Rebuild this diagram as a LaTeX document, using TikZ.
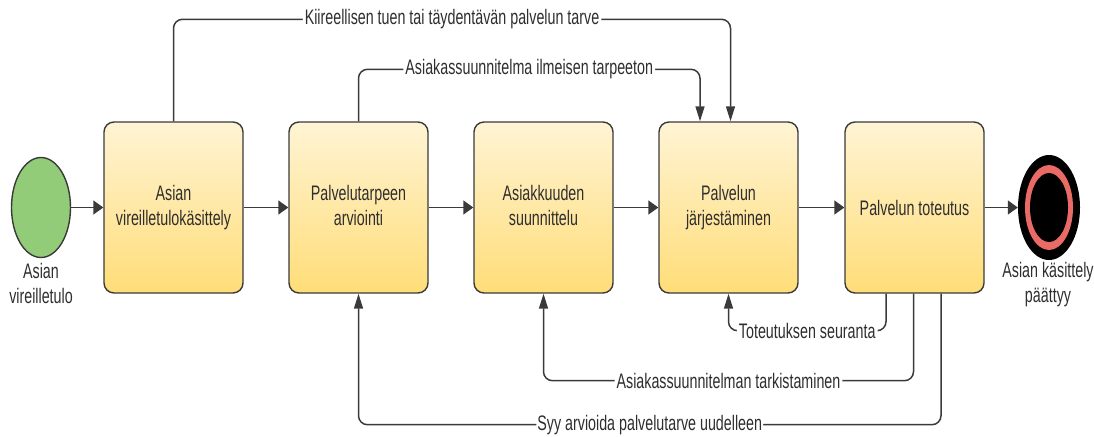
\documentclass[tikz,border=0pt]{standalone}
\usepackage{fontspec}
\setmainfont{Liberation Sans}
\usetikzlibrary{shapes.geometric,arrows.meta,calc}
\definecolor{ln}{HTML}{3A3A3A}
\definecolor{txt}{HTML}{2E2E2E}
\definecolor{boxtop}{HTML}{FFF4D4}
\definecolor{boxbot}{HTML}{FFDD78}
\definecolor{startg}{HTML}{93CC78}
\definecolor{endred}{HTML}{EA6B66}
\newcommand{\sqz}[1]{\scalebox{0.68}[1]{#1}}
\tikzset{
  box/.style={rectangle, rounded corners=10pt, draw=ln, line width=1.4pt,
    top color=boxtop, bottom color=boxbot, minimum width=139pt, minimum height=171pt,
    text=txt, align=center, inner sep=0pt},
  lbl/.style={text=txt, inner sep=0pt, font=\fontsize{21}{25}\selectfont},
  elab/.style={fill=white, text=txt, inner sep=2pt, font=\fontsize{21}{25}\selectfont},
  harr/.style={draw=ln, line width=1.5pt, -{Triangle[length=10pt,width=14pt]}},
  varr/.style={draw=ln, line width=1.5pt, rounded corners=9pt, -{Triangle[length=15pt,width=9pt]}},
}
\begin{document}
\begin{tikzpicture}[x=1pt,y=-1pt]
\useasboundingbox (0,0) rectangle (1094,436);
% start / end events
\node[ellipse, draw=ln, line width=1.4pt, fill=startg, minimum width=59pt, minimum height=100pt, inner sep=0pt] (s) at (41,207.5) {};
\node[lbl] (sl) at (41,286) {\sqz{\begin{tabular}{@{}c@{}}Asian\\vireilletulo\end{tabular}}};
\node[ellipse, fill=black, minimum width=62pt, minimum height=105pt, inner sep=0pt] (e) at (1049,207.5) {};
\node[ellipse, fill=endred, minimum width=48pt, minimum height=85pt, inner sep=0pt] (er) at (e.center) {};
\node[ellipse, fill=black, minimum width=38pt, minimum height=69pt, inner sep=0pt] (ei) at (e.center) {};
\node[lbl] (el) at (1048,285) {\sqz{\begin{tabular}{@{}c@{}}Asian käsittely\\päättyy\end{tabular}}};
% boxes
\node[box] (b1) at (173.5,207.5) {};
\node[lbl] at (b1.center) {\sqz{\begin{tabular}{@{}c@{}}Asian\\vireilletulokäsittely\end{tabular}}};
\node[box] (b2) at (358.5,207.5) {};
\node[lbl] at (b2.center) {\sqz{\begin{tabular}{@{}c@{}}Palvelutarpeen\\arviointi\end{tabular}}};
\node[box] (b3) at (543.5,207.5) {};
\node[lbl] at (b3.center) {\sqz{\begin{tabular}{@{}c@{}}Asiakkuuden\\suunnittelu\end{tabular}}};
\node[box] (b4) at (728.5,207.5) {};
\node[lbl] at (b4.center) {\sqz{\begin{tabular}{@{}c@{}}Palvelun\\järjestäminen\end{tabular}}};
\node[box] (b5) at (914.5,207.5) {};
\node[lbl] at (b5.center) {\sqz{Palvelun toteutus}};
% main flow
\draw[harr] (s.east) -- (b1.west);
\draw[harr] (b1.east) -- (b2.west);
\draw[harr] (b2.east) -- (b3.west);
\draw[harr] (b3.east) -- (b4.west);
\draw[harr] (b4.east) -- (b5.west);
\draw[harr] (b5.east) -- (e.west);
% top connectors
\draw[varr] (b1.north) -- ++(0,-102) -| node[elab, pos=0.25] {\sqz{Kiireellisen tuen tai täydentävän palvelun tarve}} ($(b4.north)+(2,0)$);
\draw[varr] (b2.north) -- ++(0,-52) -| node[elab, pos=0.25] {\sqz{Asiakassuunnitelma ilmeisen tarpeeton}} ($(b4.north)+(-28.5,0)$);
% bottom connectors
\draw[varr] ($(b5.south)+(-28.5,0)$) -- ++(0,37) -| node[elab, pos=0.25] {\sqz{Toteutuksen seuranta}} (b4.south);
\draw[varr] ($(b5.south)+(-1,0)$) -- ++(0,87) -| node[elab, pos=0.25] {\sqz{Asiakassuunnitelman tarkistaminen}} (b3.south);
\draw[varr] ($(b5.south)+(26.5,0)$) -- ++(0,131) -| node[elab, pos=0.25, inner sep=1pt] {\sqz{Syy arvioida palvelutarve uudelleen}} (b2.south);
\end{tikzpicture}
\end{document}
